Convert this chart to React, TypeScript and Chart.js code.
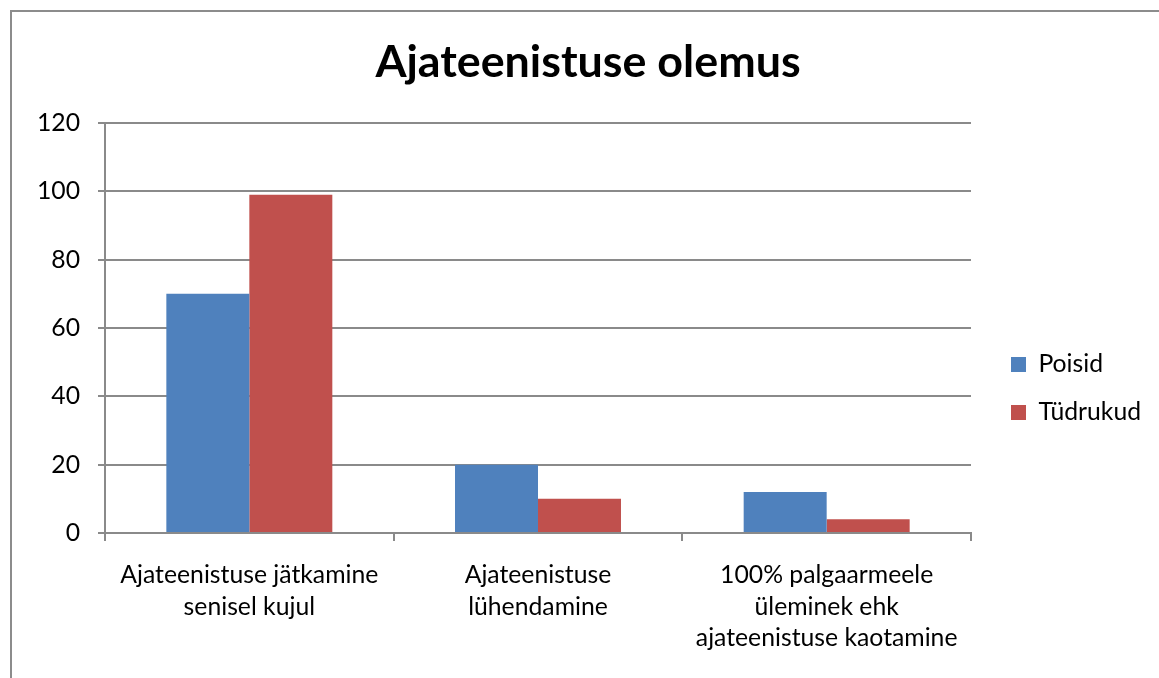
import React, { useEffect, useRef } from "react";
import { Chart, registerables } from "chart.js";

Chart.register(...registerables);

// ---- data ----
const TITLE = "Ajateenistuse olemus";
const CATEGORIES: string[][] = [
  ["Ajateenistuse jätkamine", "senisel kujul"],
  ["Ajateenistuse", "lühendamine"],
  ["100% palgaarmeele", "üleminek ehk", "ajateenistuse kaotamine"],
];
const SERIES_NAMES = ["Poisid", "Tüdrukud"];
const POISID = [70, 20, 12];
const TUDRUKUD = [99, 10, 4];
const Y_MIN = 0;
const Y_MAX = 120;
const Y_STEP = 20;

// ---- style ----
const COLORS = ["#4F81BD", "#C0504D"];
const GRID = "#8a8a8a";
const FONT = "Lato";
const FS = 24.75;
const TITLE_FS = 44.8;
const CW = 1152;
const CH = 753;

export default function App() {
  const ref = useRef<HTMLCanvasElement | null>(null);

  useEffect(() => {
    const canvas = ref.current;
    if (!canvas) return;

    // layout helpers (measure legend text so chart area lands where intended)
    const legendPad = 48 - FS;
    const boxW = 15;
    const ctx2 = document.createElement("canvas").getContext("2d")!;
    ctx2.font = `${FS}px ${FONT}`;
    const maxText = Math.max(...SERIES_NAMES.map((s) => ctx2.measureText(s).width));
    const legendW = legendPad + boxW + FS / 2 + maxText + 10;
    const plotRight = 959;
    const spacer = 999 - plotRight - legendPad;
    const sidePad = Math.max(0, CW - plotRight - spacer - legendW);

    const lineH = TITLE_FS * 1.2;
    const titleTop = 24.0;
    const titleBottom = 111 - titleTop - lineH;

    const chart = new Chart(canvas, {
      type: "bar",
      data: {
        labels: CATEGORIES,
        datasets: [
          { label: SERIES_NAMES[0], data: POISID, backgroundColor: COLORS[0], borderWidth: 0 },
          { label: SERIES_NAMES[1], data: TUDRUKUD, backgroundColor: COLORS[1], borderWidth: 0 },
        ],
      },
      options: {
        responsive: false,
        animation: false,
        events: [],
        font: { family: FONT },
        datasets: { bar: { categoryPercentage: 0.575, barPercentage: 1 } },
        layout: { padding: { left: sidePad, right: sidePad, top: 0, bottom: 0 } },
        plugins: {
          title: {
            display: true,
            text: TITLE,
            color: "#000",
            font: { family: FONT, size: TITLE_FS, weight: "bold", lineHeight: 1.2 },
            padding: { top: titleTop, bottom: titleBottom },
          },
          legend: {
            position: "right",
            labels: {
              boxWidth: boxW,
              boxHeight: 15,
              padding: legendPad,
              color: "#000",
              font: { family: FONT, size: FS },
            },
          },
          tooltip: { enabled: false },
        },
        scales: {
          x: {
            grid: { drawOnChartArea: false, drawTicks: true, tickLength: 8, color: GRID, lineWidth: 2 },
            border: { color: GRID, width: 2 },
            ticks: {
              color: "#000",
              font: { family: FONT, size: FS, lineHeight: 31.7 / FS },
              padding: 18,
              maxRotation: 0,
              autoSkip: false,
            },
            afterFit: (s: any) => {
              s.height = CH - 521;
            },
          },
          y: {
            min: Y_MIN,
            max: Y_MAX,
            ticks: {
              stepSize: Y_STEP,
              color: "#000",
              font: { family: FONT, size: FS },
              padding: 18,
            },
            grid: { color: GRID, lineWidth: 2, tickLength: 7 },
            border: { color: GRID, width: 2 },
            afterFit: (s: any) => {
              s.width = 93 - sidePad;
            },
          },
          spacer: {
            type: "linear",
            position: "right",
            display: true,
            grid: { display: false },
            border: { display: false },
            ticks: { display: false },
            afterFit: (s: any) => {
              s.width = spacer;
            },
          },
        },
      } as any,
    });
    return () => chart.destroy();
  }, []);

  return (
    <div
      style={{
        position: "fixed",
        left: 0,
        top: 0,
        width: 1159,
        height: 678,
        overflow: "hidden",
        background: "#fff",
      }}
    >
      <div
        style={{
          position: "absolute",
          left: 10,
          top: 10,
          width: CW + 4,
          height: CH + 4,
          border: "2px solid #8c8c8c",
          boxSizing: "border-box",
          background: "#fff",
        }}
      >
        <canvas ref={ref} width={CW} height={CH} style={{ display: "block", width: CW, height: CH }} />
      </div>
    </div>
  );
}
